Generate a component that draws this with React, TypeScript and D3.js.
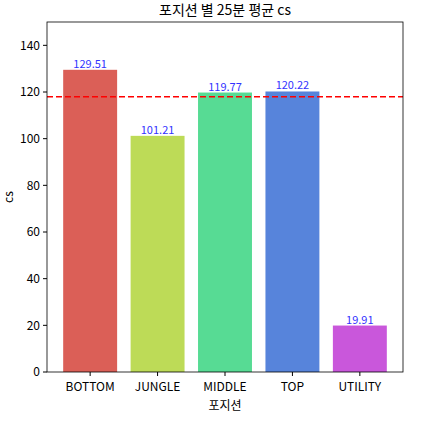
import * as d3 from 'd3';

const positions = ['BOTTOM', 'JUNGLE', 'MIDDLE', 'TOP', 'UTILITY'];
const avgCs = [129.51, 101.21, 119.77, 120.22, 19.91];
const barColors = ['#db5f57', '#bddb57', '#57db94', '#5784db', '#c957db'];
const refLine = 118;
const yTicks = [0, 20, 40, 60, 80, 100, 120, 140];

const W = 425;
const H = 424;
const m = { left: 47, right: 22, top: 22, bottom: 52 };
const font = '"Noto Sans CJK KR", "DejaVu Sans", sans-serif';

export default function App() {
  const iw = W - m.left - m.right;
  const ih = H - m.top - m.bottom;
  const x = d3.scaleLinear().domain([-0.64, positions.length - 1 + 0.64]).range([0, iw]);
  const y = d3.scaleLinear().domain([0, 150]).range([ih, 0]);
  const bw = x(0.8) - x(0);

  return (
    <svg width={W} height={H} style={{ position: 'absolute', left: 0, top: 0 }} fontFamily={font}>
      <rect width={W} height={H} fill="#fff" />
      <text x={m.left + iw / 2} y={15} textAnchor="middle" fontSize={14}>포지션 별 25분 평균 cs</text>
      <g transform={`translate(${m.left},${m.top})`}>
        {avgCs.map((v, i) => (
          <g key={positions[i]}>
            <rect x={x(i) - bw / 2} y={y(v)} width={bw} height={ih - y(v)} fill={barColors[i]} />
            <text x={x(i)} y={y(v) - 2} textAnchor="middle" fontSize={11} fill="#3333ff">{v.toFixed(2)}</text>
          </g>
        ))}
        <line x1={0} x2={iw} y1={y(refLine)} y2={y(refLine)} stroke="red" strokeWidth={1.5} strokeDasharray="6,3" />
        <rect x={0} y={0} width={iw} height={ih} fill="none" stroke="#000" strokeWidth={0.8} />
        {yTicks.map(t => (
          <g key={t} transform={`translate(0,${y(t)})`}>
            <line x1={-4} x2={0} stroke="#000" />
            <text x={-7} dy="0.35em" textAnchor="end" fontSize={12}>{t}</text>
          </g>
        ))}
        {positions.map((p, i) => (
          <g key={p} transform={`translate(${x(i)},${ih})`}>
            <line y1={0} y2={4} stroke="#000" />
            <text y={19} textAnchor="middle" fontSize={12}>{p}</text>
          </g>
        ))}
        <text x={iw / 2} y={ih + 38} textAnchor="middle" fontSize={12}>포지션</text>
        <text transform={`translate(-34,${ih / 2}) rotate(-90)`} textAnchor="middle" fontSize={12}>cs</text>
      </g>
    </svg>
  );
}
